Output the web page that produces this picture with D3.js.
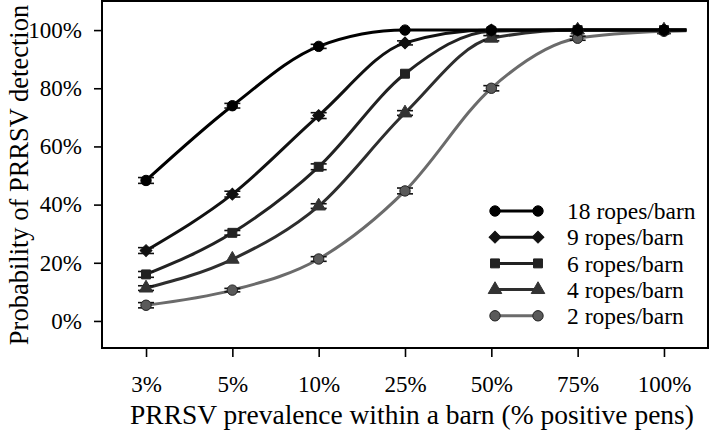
<!DOCTYPE html>
<html><head><meta charset="utf-8">
<script src="https://cdn.jsdelivr.net/npm/d3@7"></script>
<style>
html,body{margin:0;padding:0;background:#fff;}
svg{display:block;font-family:"Liberation Serif","Times New Roman",serif;}
</style></head>
<body><svg id="c" width="709" height="433"></svg>
<script>
const categories = ["3%","5%","10%","25%","50%","75%","100%"];
const seriesNames = ["18 ropes/barn","9 ropes/barn","6 ropes/barn","4 ropes/barn","2 ropes/barn"];
const ropes18 = [48.3, 74.0, 94.4, 100, 100, 100, 100];
const ropes9  = [24.2, 43.6, 70.6, 95.6, 100, 100, 100];
const ropes6  = [16.0, 30.3, 53.0, 85.0, 99.6, 100, 100];
const ropes4  = [11.3, 21.2, 39.5, 71.5, 97.2, 100, 100];
const ropes2  = [5.4, 10.6, 21.3, 44.7, 80.0, 97.2, 99.6];
const err18 = [1.0, 0.8, 0.7, 0, 0, 0, 0];
const err9  = [1.0, 1.0, 1.0, 0.7, 0, 0, 0];
const err6  = [1.0, 0.8, 1.0, 0, 0, 0, 0];
const err4  = [0.8, 0, 0.8, 0.8, 0.9, 0, 0];
const err2  = [0.9, 0.6, 0.8, 1.0, 0.9, 0.7, 0];
const yTicks = [0, 20, 40, 60, 80, 100];

const values = [ropes18, ropes9, ropes6, ropes4, ropes2];
const errs = [err18, err9, err6, err4, err2];
const lineColors = ["#000000", "#111111", "#222222", "#2e2e2e", "#6b6b6b"];
const fillColors = ["#000000", "#111111", "#222222", "#333333", "#5a5a5a"];
const symbols = [d3.symbolCircle, d3.symbolSquare, d3.symbolSquare, d3.symbolTriangle, d3.symbolCircle];
const symRot = [0, 45, 0, 0, 0];
const symSizes = [85, 70, 80, 80, 85];

const svg = d3.select("#c");
const L = 102, R = 708, T = 1, B = 348;
const x = d3.scalePoint().domain(categories).range([L, R]).padding(0.51);
const y = d3.scaleLinear().domain([-9.3, 110]).range([B, T]);

// frame
svg.append("rect").attr("x", L).attr("y", T).attr("width", R - L).attr("height", B - T)
  .attr("fill", "none").attr("stroke", "#000").attr("stroke-width", 2);

// axes
const gx = svg.append("g").attr("transform", `translate(0,${B})`)
  .call(d3.axisBottom(x).tickSize(9).tickPadding(19));
const gy = svg.append("g").attr("transform", `translate(${L},0)`)
  .call(d3.axisLeft(y).tickValues(yTicks).tickFormat(d => d + "%").tickSize(8).tickPadding(12));
[gx, gy].forEach(g => {
  g.select(".domain").remove();
  g.selectAll(".tick line").attr("stroke", "#000").attr("stroke-width", 1.6);
  g.selectAll(".tick text").attr("fill", "#000").style("font-size", "23px")
    .style("font-family", "'Liberation Serif',serif");
});

// titles
svg.append("text").attr("x", 412).attr("y", 424).attr("text-anchor", "middle")
  .style("font-size", "27.5px").text("PRRSV prevalence within a barn (% positive pens)");
svg.append("text").attr("transform", `translate(28,175) rotate(-90)`)
  .attr("text-anchor", "middle").style("font-size", "26.5px").text("Probability of PRRSV detection");

// curves (drawn from last series to first so the darkest lies on top)
const line = d3.line().x(d => d[0]).y(d => y(d[1])).curve(d3.curveMonotoneX);
for (let s = values.length - 1; s >= 0; s--) {
  const pts = categories.map((c, i) => [x(c), values[s][i]]);
  const last = values[s][values[s].length - 1];
  pts.push([x(categories[categories.length - 1]) + x.step() * 0.26, Math.min(100, last + 0.2)]);
  svg.append("path").attr("d", line(pts)).attr("fill", "none")
    .attr("stroke", lineColors[s]).attr("stroke-width", 3);
}
function marker(g, s, px, py) {
  g.append("path").attr("d", d3.symbol().type(symbols[s]).size(symSizes[s])())
    .attr("transform", `translate(${px},${py}) rotate(${symRot[s]})`)
    .attr("fill", fillColors[s]).attr("stroke", s === 4 ? "#222" : fillColors[s]).attr("stroke-width", 1);
}
// error bars and markers
for (let s = values.length - 1; s >= 0; s--) {
  const g = svg.append("g");
  categories.forEach((c, i) => {
    const v = values[s][i], e = errs[s][i];
    if (e > 0) {
      [v - e, v + e].forEach(w => {
        g.append("line").attr("x1", x(c) - 8).attr("x2", x(c) + 8)
          .attr("y1", y(w)).attr("y2", y(w)).attr("stroke", "#111").attr("stroke-width", 1.6);
      });
      g.append("line").attr("x1", x(c)).attr("x2", x(c)).attr("y1", y(v - e)).attr("y2", y(v + e))
        .attr("stroke", "#111").attr("stroke-width", 1.6);
    }
    marker(g, s, x(c), y(v));
  });
}

// legend
const lg = svg.append("g");
seriesNames.forEach((n, s) => {
  const ly = 211 + s * 26.2;
  lg.append("line").attr("x1", 495).attr("x2", 538).attr("y1", ly).attr("y2", ly)
    .attr("stroke", lineColors[s]).attr("stroke-width", 3);
  [495, 538].forEach(lx => marker(lg, s, lx, ly));
  lg.append("text").attr("x", 567).attr("y", ly).attr("dy", "0.35em")
    .style("font-size", "23.5px").text(n);
});
</script></body></html>
